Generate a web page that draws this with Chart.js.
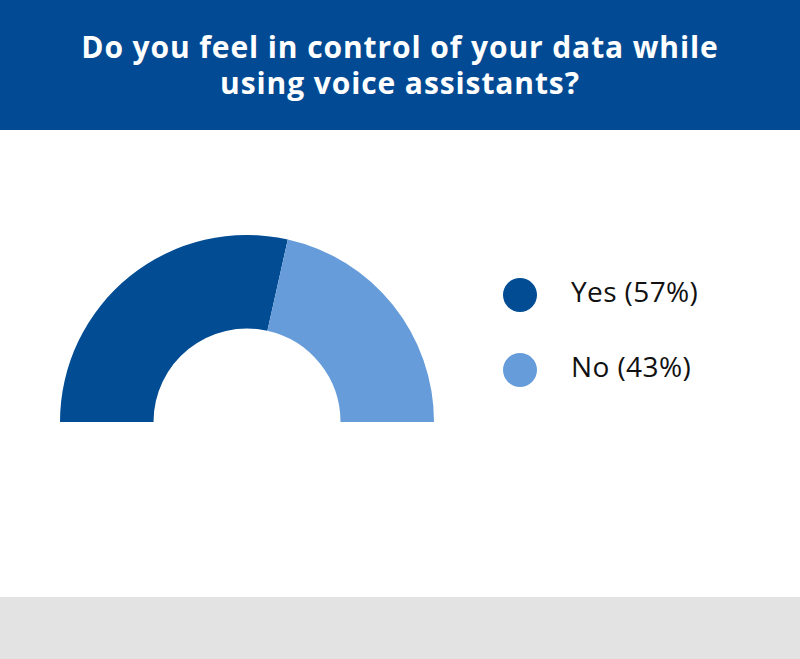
<!DOCTYPE html>
<html>
<head>
<meta charset="utf-8">
<script src="https://cdn.jsdelivr.net/npm/chart.js@4.4.1/dist/chart.umd.min.js"></script>
<style>
  html, body { margin: 0; padding: 0; background: #fff; }
  body { width: 800px; height: 659px; position: relative; overflow: hidden; font-family: "Open Sans", sans-serif; }
  #header {
    position: absolute; left: 0; top: 0; width: 800px; height: 130px;
    background: #024b94; color: #fff; text-align: center;
    font-weight: 700; font-size: 30px; line-height: 36px; letter-spacing: 0.9px;
    box-sizing: border-box; padding-top: 29px;
  }
  #chartBox { position: absolute; left: 60px; top: 235px; width: 374px; height: 187px; }
  #legend { position: absolute; left: 503px; top: 268px; }
  .item { display: flex; align-items: center; height: 46px; margin-bottom: 29px; }
  .dot { width: 34px; height: 34px; border-radius: 50%; margin-right: 34px; transform: translateY(4px); }
  .lbl { font-size: 28px; color: #111; letter-spacing: 0.4px; }
  #footer { position: absolute; left: 0; top: 597px; width: 800px; height: 62px; background: #e3e3e3; }
</style>
</head>
<body>
<div id="header">Do you feel in control of your data while<br>using voice assistants?</div>
<div id="chartBox"><canvas id="pie"></canvas></div>
<div id="legend"></div>
<div id="footer"></div>
<script>
  const labels = ["Yes", "No"];
  const values = [57, 43];
  const colors = ["#024c94", "#659cd9"];

  new Chart(document.getElementById("pie"), {
    type: "doughnut",
    data: {
      labels,
      datasets: [{
        data: values,
        backgroundColor: colors,
        borderWidth: 0
      }]
    },
    options: {
      responsive: true,
      maintainAspectRatio: false,
      animation: false,
      rotation: -90,
      circumference: 180,
      cutout: "50%",
      layout: { padding: 0 },
      plugins: {
        legend: { display: false },
        tooltip: { enabled: false }
      }
    }
  });

  // legend built from the same arrays
  const legend = document.getElementById("legend");
  labels.forEach((name, i) => {
    const row = document.createElement("div");
    row.className = "item";
    row.innerHTML = `<div class="dot" style="background:${colors[i]}"></div><span class="lbl">${name} (${values[i]}%)</span>`;
    legend.appendChild(row);
  });
</script>
</body>
</html>
